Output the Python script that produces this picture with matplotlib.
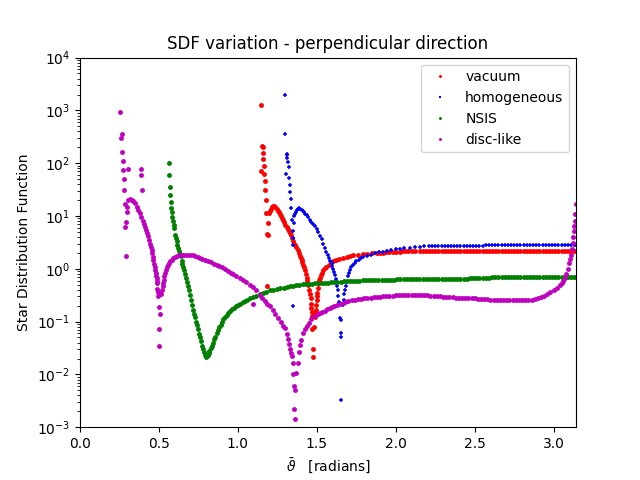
import numpy as np
import matplotlib
matplotlib.use("Agg")
import matplotlib.pyplot as plt

# (theta, sdf) points

vacuum = [
    # scattered points near the spike
    (1.147, 1250), (1.154, 215), (1.157, 200), (1.160, 155), (1.162, 118),
    (1.147, 71), (1.166, 87), (1.166, 63), (1.173, 46), (1.173, 31),
    (1.179, 20), (1.179, 11.3), (1.192, 7.3), (1.185, 4.6), (1.190, 4.3),
    (1.185, 0.47),
    # main branch
    (1.198, 11.3), (1.204, 12.6), (1.209, 13.8), (1.215, 14.9), (1.223, 15.5),
    (1.230, 15.3), (1.237, 14.6), (1.245, 13.7), (1.252, 12.6), (1.259, 11.7),
    (1.266, 10.9), (1.273, 10.0), (1.280, 9.1), (1.287, 8.5), (1.294, 7.6),
    (1.301, 6.8), (1.308, 6.2), (1.315, 5.6), (1.322, 5.1), (1.329, 4.7),
    (1.336, 4.3), (1.343, 3.8), (1.350, 3.4), (1.357, 3.0), (1.364, 2.8),
    (1.371, 2.6), (1.378, 2.3), (1.385, 2.0), (1.392, 1.75), (1.398, 1.58),
    (1.403, 1.48), (1.409, 1.33), (1.414, 1.2), (1.419, 1.08), (1.424, 0.96),
    (1.430, 0.81), (1.435, 0.66), (1.440, 0.58), (1.445, 0.50), (1.450, 0.40),
    (1.455, 0.33), (1.460, 0.28), (1.463, 0.22), (1.466, 0.18), (1.470, 0.15),
    (1.472, 0.126),
    (1.470, 0.072), (1.481, 0.078), (1.477, 0.030), (1.477, 0.021),
    (1.488, 0.12), (1.491, 0.145), (1.494, 0.166), (1.496, 0.21), (1.498, 0.26),
    (1.500, 0.30), (1.502, 0.35), (1.506, 0.43), (1.511, 0.54), (1.515, 0.61),
    (1.519, 0.68), (1.525, 0.76), (1.530, 0.83), (1.540, 0.93), (1.550, 1.02),
    (1.561, 1.1), (1.575, 1.2), (1.590, 1.3), (1.603, 1.38), (1.620, 1.46),
    (1.640, 1.53), (1.666, 1.59), (1.690, 1.68), (1.709, 1.76), (1.730, 1.81),
    (1.760, 1.86), (1.790, 1.90), (1.815, 1.92), (1.850, 1.97), (1.880, 2.00),
    (1.900, 2.015), (1.920, 2.03), (1.940, 2.05), (1.960, 2.07), (1.980, 2.085),
    (2.000, 2.10), (2.025, 2.12), (2.040, 2.13), (2.060, 2.15), (2.080, 2.16),
    (2.100, 2.17), (2.120, 2.18), (2.152, 2.19),
    # plateau
    (2.17, 2.19), (2.19, 2.19), (2.21, 2.19), (2.23, 2.19), (2.25, 2.2),
    (2.27, 2.2), (2.29, 2.2), (2.31, 2.2), (2.33, 2.2), (2.35, 2.2),
    (2.37, 2.2), (2.39, 2.2), (2.41, 2.2), (2.43, 2.2), (2.45, 2.2),
    (2.47, 2.2), (2.49, 2.2), (2.51, 2.2), (2.53, 2.2), (2.55, 2.2),
    (2.57, 2.2), (2.59, 2.2), (2.61, 2.2), (2.63, 2.2), (2.65, 2.2),
    (2.67, 2.2), (2.69, 2.2), (2.71, 2.2), (2.73, 2.2), (2.75, 2.2),
    (2.77, 2.2), (2.79, 2.2), (2.81, 2.2), (2.83, 2.2), (2.85, 2.2),
    (2.87, 2.2), (2.89, 2.2), (2.91, 2.2), (2.93, 2.2), (2.95, 2.2),
    (2.97, 2.2), (2.99, 2.2), (3.01, 2.2), (3.03, 2.2), (3.05, 2.2),
    (3.07, 2.2), (3.09, 2.2), (3.11, 2.2), (3.13, 2.2), (3.14, 2.2),
]

homogeneous = [
    (1.299, 2000), (1.299, 355), (1.308, 150), (1.312, 144), (1.312, 128),
    (1.318, 105), (1.325, 84), (1.306, 62), (1.325, 52), (1.331, 38),
    (1.331, 28), (1.337, 21), (1.337, 14), (1.344, 8.5), (1.356, 7.3),
    (1.350, 5.1), (1.350, 3.8), (1.350, 2.8), (1.350, 0.195),
    (1.356, 9.8), (1.361, 11.0), (1.367, 12.0), (1.373, 13.0), (1.380, 13.7),
    (1.388, 14.1), (1.395, 13.8), (1.403, 13.2), (1.411, 12.5), (1.418, 11.7),
    (1.425, 11.1), (1.435, 10.5), (1.445, 9.5), (1.456, 8.5), (1.466, 7.8),
    (1.477, 7.1), (1.488, 6.4), (1.498, 5.7), (1.508, 5.0), (1.519, 4.2),
    (1.530, 3.6), (1.540, 3.0), (1.550, 2.5), (1.561, 2.1), (1.570, 1.85),
    (1.578, 1.6), (1.586, 1.42), (1.593, 1.28), (1.598, 1.15), (1.603, 1.0),
    (1.609, 0.88), (1.614, 0.77), (1.620, 0.65), (1.625, 0.54), (1.628, 0.47),
    (1.631, 0.40), (1.635, 0.30), (1.639, 0.24),
    (1.646, 0.117), (1.656, 0.105), (1.650, 0.060), (1.654, 0.051), (1.654, 0.0033),
    (1.667, 0.21), (1.671, 0.26), (1.674, 0.33), (1.677, 0.40), (1.682, 0.48),
    (1.688, 0.56), (1.696, 0.74), (1.702, 0.85), (1.709, 0.95), (1.718, 1.06),
    (1.728, 1.17), (1.740, 1.28), (1.751, 1.38), (1.765, 1.48), (1.778, 1.58),
    (1.795, 1.67), (1.815, 1.76), (1.840, 1.86), (1.867, 1.96), (1.895, 2.04),
    (1.920, 2.12), (1.945, 2.20), (1.968, 2.27), (2.000, 2.34), (2.025, 2.39),
    (2.055, 2.45), (2.089, 2.52), (2.120, 2.58), (2.152, 2.62), (2.180, 2.66),
    (2.21, 2.69), (2.23, 2.70), (2.25, 2.70), (2.27, 2.71), (2.29, 2.71),
    (2.31, 2.72), (2.33, 2.72), (2.35, 2.72), (2.37, 2.72), (2.39, 2.73),
    (2.41, 2.73), (2.43, 2.73), (2.45, 2.73), (2.47, 2.74), (2.49, 2.74),
    (2.51, 2.74), (2.53, 2.75), (2.55, 2.75), (2.57, 2.82), (2.59, 2.82),
    (2.61, 2.82), (2.63, 2.82), (2.65, 2.83), (2.67, 2.83), (2.69, 2.83),
    (2.71, 2.83), (2.73, 2.83), (2.75, 2.83), (2.77, 2.83), (2.79, 2.83),
    (2.81, 2.84), (2.83, 2.84), (2.85, 2.84), (2.87, 2.84), (2.89, 2.84),
    (2.91, 2.84), (2.93, 2.84), (2.95, 2.84), (2.97, 2.84), (2.99, 2.84),
    (3.01, 2.84), (3.03, 2.84), (3.05, 2.84), (3.07, 2.84), (3.09, 2.84),
    (3.11, 2.84), (3.13, 2.84), (3.14, 2.84),
]

nsis = [
    (0.565, 100), (0.565, 59), (0.572, 35), (0.572, 25), (0.578, 18.3),
    (0.578, 14), (0.584, 11.8), (0.584, 9.5), (0.591, 8.2), (0.595, 6.9),
    (0.597, 5.9), (0.603, 4.4), (0.607, 3.8), (0.612, 3.3), (0.617, 2.85),
    (0.622, 2.45), (0.627, 2.15), (0.632, 1.9), (0.637, 1.71),
    (0.643, 1.41), (0.649, 1.23), (0.654, 1.10), (0.660, 0.93), (0.666, 0.79),
    (0.672, 0.68), (0.678, 0.56), (0.685, 0.47), (0.691, 0.39), (0.697, 0.32),
    (0.703, 0.26), (0.710, 0.21), (0.717, 0.166), (0.723, 0.141), (0.729, 0.120),
    (0.735, 0.100), (0.742, 0.085), (0.749, 0.071), (0.755, 0.059), (0.761, 0.050),
    (0.767, 0.043), (0.774, 0.035), (0.780, 0.030), (0.786, 0.026), (0.792, 0.023),
    (0.798, 0.021), (0.803, 0.022),
    (0.808, 0.0234), (0.814, 0.0257), (0.820, 0.0282), (0.827, 0.031), (0.834, 0.034),
    (0.842, 0.040), (0.850, 0.046), (0.857, 0.052), (0.865, 0.060), (0.873, 0.069),
    (0.881, 0.078), (0.890, 0.087), (0.898, 0.098), (0.907, 0.110), (0.917, 0.120),
    (0.928, 0.132), (0.940, 0.145), (0.952, 0.158), (0.964, 0.170), (0.976, 0.182),
    (0.988, 0.195), (1.000, 0.204), (1.015, 0.219), (1.030, 0.232), (1.045, 0.245),
    (1.060, 0.260), (1.076, 0.275), (1.095, 0.292), (1.115, 0.309), (1.139, 0.331),
    (1.160, 0.347), (1.180, 0.367), (1.203, 0.389), (1.225, 0.403), (1.245, 0.417),
    (1.266, 0.427), (1.290, 0.442), (1.310, 0.457), (1.330, 0.468), (1.350, 0.479),
    (1.370, 0.49), (1.390, 0.50), (1.410, 0.507), (1.430, 0.513),
    (1.45, 0.52), (1.47, 0.525), (1.49, 0.53), (1.51, 0.535), (1.53, 0.54),
    (1.55, 0.545), (1.57, 0.55), (1.59, 0.555), (1.61, 0.56), (1.63, 0.565),
    (1.65, 0.57), (1.67, 0.575), (1.69, 0.58), (1.71, 0.585), (1.73, 0.59),
    (1.75, 0.595), (1.77, 0.60), (1.79, 0.602), (1.81, 0.605), (1.83, 0.607),
    (1.85, 0.61), (1.87, 0.612), (1.89, 0.615), (1.91, 0.617), (1.93, 0.62),
    (1.95, 0.622), (1.97, 0.624), (1.99, 0.626), (2.01, 0.628), (2.03, 0.63),
    (2.05, 0.632), (2.07, 0.634), (2.09, 0.636), (2.11, 0.638), (2.13, 0.64),
    (2.15, 0.645), (2.17, 0.65), (2.19, 0.65), (2.21, 0.65), (2.23, 0.65),
    (2.25, 0.65), (2.27, 0.65), (2.29, 0.652), (2.31, 0.652), (2.33, 0.652),
    (2.35, 0.652), (2.37, 0.654), (2.39, 0.654), (2.41, 0.654), (2.43, 0.655),
    (2.45, 0.655), (2.47, 0.656), (2.49, 0.656), (2.51, 0.684), (2.53, 0.684),
    (2.55, 0.684), (2.57, 0.684), (2.59, 0.684), (2.61, 0.685), (2.63, 0.685),
    (2.65, 0.685), (2.67, 0.685), (2.69, 0.685), (2.71, 0.685), (2.73, 0.685),
    (2.75, 0.685), (2.77, 0.685), (2.79, 0.686), (2.81, 0.686), (2.83, 0.686),
    (2.85, 0.686), (2.87, 0.686), (2.89, 0.687), (2.91, 0.687), (2.93, 0.687),
    (2.95, 0.687), (2.97, 0.687), (2.99, 0.688), (3.01, 0.688), (3.03, 0.688),
    (3.05, 0.688), (3.07, 0.688), (3.09, 0.688), (3.11, 0.688), (3.13, 0.688),
    (3.14, 0.688),
]

disc_like = [
    # scattered points at small theta
    (0.255, 930), (0.268, 350), (0.261, 300), (0.268, 163), (0.274, 110),
    (0.274, 74), (0.306, 78), (0.388, 78), (0.388, 60), (0.394, 31),
    (0.280, 50), (0.280, 31), (0.287, 17), (0.299, 14.7), (0.299, 12),
    (0.293, 7.8), (0.287, 6.2), (0.293, 1.76),
    # first hump
    (0.306, 20.4), (0.316, 20.9), (0.327, 20.5), (0.338, 19.5), (0.348, 17.4),
    (0.359, 15.1), (0.370, 13.2), (0.380, 11.2), (0.389, 9.4), (0.397, 7.9),
    (0.404, 7.1), (0.411, 6.3), (0.419, 5.5), (0.426, 4.7), (0.433, 4.1),
    (0.439, 3.55), (0.444, 3.0), (0.449, 2.63), (0.454, 2.3), (0.458, 2.0),
    (0.461, 1.7), (0.464, 1.48), (0.469, 1.25), (0.473, 1.10), (0.476, 0.95),
    (0.479, 0.83), (0.482, 0.74), (0.485, 0.66), (0.487, 0.59), (0.489, 0.54),
    (0.490, 0.42), (0.493, 0.37), (0.496, 0.31),
    (0.502, 0.186), (0.508, 0.138), (0.502, 0.072), (0.502, 0.034),
    (0.515, 0.34), (0.519, 0.40), (0.523, 0.47), (0.527, 0.55), (0.530, 0.62),
    (0.534, 0.72), (0.538, 0.83), (0.543, 0.95), (0.549, 1.07), (0.556, 1.20),
    (0.563, 1.31), (0.570, 1.38), (0.580, 1.48), (0.590, 1.57), (0.601, 1.66),
    (0.614, 1.74), (0.628, 1.82),
    # broad hump and dip
    (0.645, 1.85), (0.660, 1.86), (0.680, 1.86), (0.696, 1.84), (0.715, 1.80),
    (0.730, 1.74), (0.745, 1.68), (0.759, 1.58), (0.775, 1.52), (0.790, 1.47),
    (0.810, 1.40), (0.830, 1.33), (0.850, 1.26), (0.865, 1.20), (0.880, 1.14),
    (0.900, 1.06), (0.920, 0.98), (0.940, 0.91), (0.955, 0.84), (0.970, 0.78),
    (0.990, 0.72), (1.013, 0.66), (1.030, 0.61), (1.050, 0.56), (1.076, 0.50),
    (1.095, 0.45), (1.097, 0.22), (1.115, 0.40), (1.139, 0.32), (1.155, 0.28),
    (1.170, 0.25), (1.185, 0.22), (1.203, 0.195), (1.220, 0.165), (1.238, 0.14),
    (1.255, 0.117), (1.270, 0.10), (1.285, 0.083), (1.297, 0.076), (1.308, 0.058),
    (1.318, 0.046), (1.326, 0.037), (1.333, 0.030), (1.338, 0.025), (1.342, 0.022),
    (1.346, 0.0166), (1.350, 0.010), (1.356, 0.0059), (1.363, 0.0050),
    (1.356, 0.0022), (1.363, 0.0014),
    (1.371, 0.0107), (1.378, 0.0166), (1.384, 0.026), (1.392, 0.036), (1.400, 0.045),
    (1.413, 0.060), (1.425, 0.072), (1.435, 0.081), (1.450, 0.095), (1.466, 0.110),
    (1.490, 0.128), (1.505, 0.137), (1.519, 0.145), (1.535, 0.154), (1.550, 0.162),
    (1.566, 0.172), (1.582, 0.182), (1.596, 0.191), (1.610, 0.20), (1.628, 0.21),
    (1.646, 0.219), (1.663, 0.228), (1.680, 0.235), (1.700, 0.245),
    # plateau and rise at theta -> pi
    (1.72, 0.255), (1.74, 0.26), (1.76, 0.266), (1.78, 0.272), (1.80, 0.277),
    (1.82, 0.282), (1.84, 0.286), (1.86, 0.29), (1.88, 0.295), (1.90, 0.298),
    (1.92, 0.302), (1.94, 0.305), (1.96, 0.309), (1.98, 0.311), (2.00, 0.313),
    (2.02, 0.315), (2.04, 0.316), (2.06, 0.318), (2.08, 0.32), (2.10, 0.322),
    (2.12, 0.324), (2.14, 0.324), (2.16, 0.322), (2.18, 0.318), (2.20, 0.314),
    (2.22, 0.31), (2.24, 0.306), (2.26, 0.303), (2.28, 0.30), (2.30, 0.297),
    (2.32, 0.293), (2.34, 0.289), (2.36, 0.287), (2.38, 0.285), (2.40, 0.284),
    (2.42, 0.282), (2.44, 0.28), (2.46, 0.278), (2.48, 0.276), (2.50, 0.274),
    (2.52, 0.273), (2.54, 0.27), (2.56, 0.267), (2.58, 0.264), (2.60, 0.261),
    (2.62, 0.259), (2.64, 0.258), (2.66, 0.257), (2.68, 0.257), (2.70, 0.257),
    (2.72, 0.257), (2.74, 0.257), (2.76, 0.257), (2.78, 0.257), (2.80, 0.257),
    (2.82, 0.258), (2.84, 0.259), (2.86, 0.262), (2.88, 0.270), (2.90, 0.280),
    (2.92, 0.295), (2.94, 0.31), (2.96, 0.335), (2.98, 0.36), (3.00, 0.395),
    (3.02, 0.44), (3.04, 0.50), (3.05, 0.54), (3.06, 0.59), (3.07, 0.66),
    (3.08, 0.78), (3.09, 0.98), (3.10, 1.29), (3.106, 1.55), (3.112, 1.82),
    (3.117, 2.4), (3.122, 3.1), (3.125, 4.0), (3.128, 5.1), (3.132, 6.5),
    (3.135, 8.1), (3.138, 11), (3.1405, 17),
]

labels = ["vacuum", "homogeneous", "NSIS", "disc-like"]
styles = ["r.", "b+", "g.", "m."]

fig, ax = plt.subplots(figsize=(6.4, 4.8), dpi=100)

for data, lab, st in zip([vacuum, homogeneous, nsis, disc_like], labels, styles):
    th, sdf = np.array(data).T
    if st == "b+":
        ax.plot(th, sdf, st, markersize=3.5, markeredgewidth=1.1, label=lab)
    else:
        ax.plot(th, sdf, st, markersize=5, label=lab)

ax.set_yscale("log")
ax.set_xlim(0, np.pi)
ax.set_ylim(1e-3, 1e4)
ax.set_title("SDF variation - perpendicular direction")
ax.set_xlabel(r"$\bar{\vartheta}$   [radians]")
ax.set_ylabel("Star Distribution Function")
ax.legend(loc="upper right", markerscale=0.45)

fig.savefig("out.png")
